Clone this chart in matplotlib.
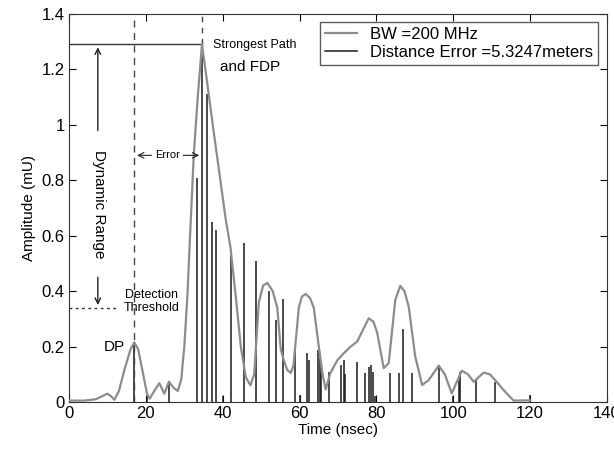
import matplotlib
matplotlib.use("Agg")
import matplotlib.pyplot as plt

plt.rcParams["font.family"] = ["Liberation Sans", "DejaVu Sans"]

# gray channel profile (BW = 200 MHz)
t_curve = [0, 4, 7, 8.5, 10, 11, 11.8, 13, 14.5, 16, 17, 18, 19.3, 20.3, 21, 22.2,
           23.5, 24.8, 26, 27.3, 28.3, 29.2, 30, 30.8, 31.5, 32.5, 33.5, 34.6, 35.5,
           37.7, 40.8, 42, 43.4, 44.7, 46, 47.2, 48.2, 49.4, 50.5, 51.6, 53, 54.2,
           55.1, 55.9, 56.8, 57.7, 58.4, 59.0, 59.8, 60.6, 61.6, 62.7, 63.7, 65, 66,
           66.8, 68, 69.8, 71.5, 73.3, 75, 76.7, 78, 79.2, 80.2, 81.9, 83.2, 84.9,
           86.2, 87.3, 88.4, 90.1, 91.9, 93.6, 96.2, 97.8, 99.6, 102.2, 103.8, 105.3,
           107.9, 109.5, 110.9, 113.3, 115.7, 120]
a_curve = [0.005, 0.005, 0.01, 0.02, 0.03, 0.02, 0.008, 0.04, 0.12, 0.19, 0.215, 0.19,
           0.1, 0.03, 0.012, 0.04, 0.068, 0.03, 0.073, 0.05, 0.04, 0.08, 0.2, 0.38,
           0.6, 0.9, 1.1, 1.29, 1.2, 0.97, 0.657, 0.56, 0.38, 0.2, 0.09, 0.06, 0.1,
           0.36, 0.42, 0.43, 0.4, 0.34, 0.19, 0.15, 0.115, 0.105, 0.13, 0.22, 0.34,
           0.38, 0.39, 0.375, 0.34, 0.2, 0.1, 0.045, 0.104, 0.15, 0.176, 0.2, 0.218,
           0.266, 0.302, 0.29, 0.25, 0.122, 0.14, 0.368, 0.419, 0.4, 0.344, 0.164,
           0.061, 0.079, 0.131, 0.1, 0.031, 0.113, 0.1, 0.073, 0.106, 0.1, 0.079,
           0.04, 0.005, 0.006]

# multipath arrivals (black stems)
t_paths = [17, 20.3, 26, 33.2, 34.6, 36.0, 37.1, 38.3, 40.0, 42.1, 45.6, 48.7, 52.0,
           53.8, 55.6, 58.8, 60.0, 62.0, 62.4, 64.8, 65.3, 65.6, 67.6, 70.8, 71.5,
           71.9, 75.0, 76.9, 78.0, 78.6, 79.1, 79.7, 83.4, 86.0, 86.9, 89.2, 96.2,
           99.9, 101.4, 101.8, 106.0, 110.8, 120.0]
a_paths = [0.218, 0.02, 0.07, 0.81, 1.29, 1.11, 0.65, 0.62, 0.02, 0.53, 0.575, 0.51,
           0.40, 0.296, 0.37, 0.194, 0.025, 0.176, 0.152, 0.188, 0.16, 0.11, 0.109,
           0.134, 0.152, 0.10, 0.146, 0.106, 0.127, 0.134, 0.11, 0.02, 0.103, 0.106,
           0.262, 0.103, 0.134, 0.023, 0.077, 0.109, 0.079, 0.073, 0.025]

t_dp = 17.0
t_fdp = 34.6
peak = 1.29
threshold = 0.34

fig = plt.figure(figsize=(6.14, 4.5), dpi=100)
ax = fig.add_axes([0.1124, 0.1067, 0.8762, 0.8622])

ax.vlines(t_paths, 0, a_paths, color="#1a1a1a", lw=1.1, zorder=2)
ax.plot([], [], color="#1a1a1a", lw=1.1, label="Distance Error =5.3247meters")
ax.plot(t_curve, a_curve, color="#8c8c8c", lw=1.6, zorder=3, label="BW =200 MHz",
        solid_joinstyle="round")

# reference lines
ax.plot([0, t_fdp], [peak, peak], color="#333333", lw=1.0)
ax.axvline(t_dp, color="#444444", lw=1.0, ls=(0, (5, 4)))
ax.plot([t_fdp, t_fdp], [peak, 1.4], color="#444444", lw=1.0, ls=(0, (4, 4)))
ax.plot([0, 12.9], [threshold, threshold], color="#333333", lw=1.0, ls=(0, (2, 2.5)))

# dynamic range arrows
ax.annotate("", xy=(7.5, peak), xytext=(7.5, 0.97),
            arrowprops=dict(arrowstyle="->", color="#222222", lw=1.0))
ax.annotate("", xy=(7.5, threshold), xytext=(7.5, 0.46),
            arrowprops=dict(arrowstyle="->", color="#222222", lw=1.0))
ax.text(7.9, 0.715, "Dynamic Range", rotation=270, ha="center", va="center", fontsize=11)

# error arrows
ax.text(25.6, 0.89, "Error", ha="center", va="center", fontsize=8)
ax.annotate("", xy=(t_dp, 0.89), xytext=(22.2, 0.89),
            arrowprops=dict(arrowstyle="->", color="#222222", lw=0.8))
ax.annotate("", xy=(t_fdp, 0.89), xytext=(29.0, 0.89),
            arrowprops=dict(arrowstyle="->", color="#222222", lw=0.8))

ax.text(21.4, 0.386, "Detection", ha="center", va="center", fontsize=9)
ax.text(21.4, 0.34, "Threshold", ha="center", va="center", fontsize=9)
ax.text(11.9, 0.2, "DP", ha="center", va="center", fontsize=11)
ax.text(48.3, 1.289, "Strongest Path", ha="center", va="center", fontsize=9)
ax.text(47.0, 1.21, "and FDP", ha="center", va="center", fontsize=11)

ax.set_xlim(0, 140)
ax.set_ylim(0, 1.4)
ax.set_xticks(range(0, 141, 20))
ax.set_yticks([0, 0.2, 0.4, 0.6, 0.8, 1.0, 1.2, 1.4])
ax.set_yticklabels(["0", "0.2", "0.4", "0.6", "0.8", "1", "1.2", "1.4"])
ax.tick_params(direction="in", top=True, right=True, labelsize=12, length=5, pad=3)
for s in ax.spines.values():
    s.set_color("#333333")
ax.set_xlabel("Time (nsec)", fontsize=11, labelpad=1)
ax.set_ylabel("Amplitude (mU)", fontsize=11, labelpad=4)

handles, labels = ax.get_legend_handles_labels()
leg = ax.legend(handles[::-1], labels[::-1], loc="upper right", fontsize=12,
                frameon=True, fancybox=False, edgecolor="#333333", borderpad=0.3,
                handlelength=1.9, labelspacing=0.15, borderaxespad=0,
                bbox_to_anchor=(0.983, 0.979))
leg.get_frame().set_linewidth(1.0)

plt.savefig("out.png", dpi=100)
plt.close()
